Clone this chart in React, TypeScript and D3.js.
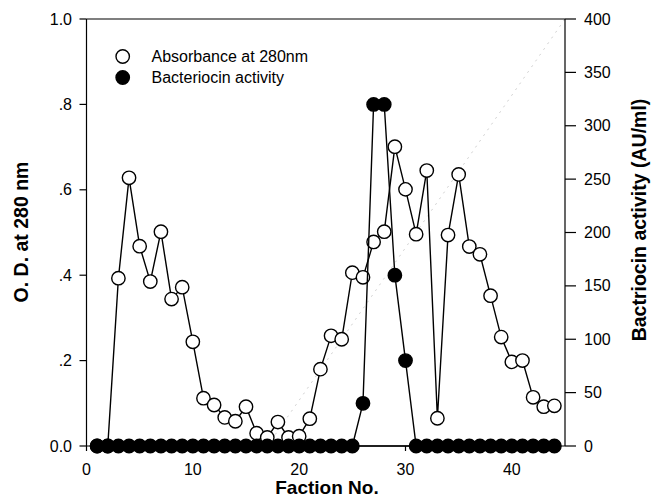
import React from "react";
import * as d3 from "d3";

const fractions = [1,2,3,4,5,6,7,8,9,10,11,12,13,14,15,16,17,18,19,20,21,22,23,24,25,26,27,28,29,30,31,32,33,34,35,36,37,38,39,40,41,42,43,44];
const absorbance = [0,0,0.393,0.628,0.468,0.385,0.502,0.344,0.372,0.244,0.112,0.096,0.067,0.058,0.092,0.030,0.020,0.056,0.020,0.023,0.064,0.180,0.258,0.250,0.406,0.395,0.478,0.502,0.701,0.601,0.496,0.645,0.065,0.494,0.636,0.467,0.449,0.352,0.255,0.197,0.200,0.114,0.092,0.094];
const activity = [0,0,0,0,0,0,0,0,0,0,0,0,0,0,0,0,0,0,0,0,0,0,0,0,0,40,320,320,160,80,0,0,0,0,0,0,0,0,0,0,0,0,0,0];
const gradientX = [17, 45];
const gradientY = [0, 1.0];
const xTicks = [0, 10, 20, 30, 40];
const leftTicks = [0, 0.2, 0.4, 0.6, 0.8, 1.0];
const leftTickLabels = ["0.0", ".2", ".4", ".6", ".8", "1.0"];
const rightTicks = [0, 50, 100, 150, 200, 250, 300, 350, 400];
const legendLabels = ["Absorbance at 280nm", "Bacteriocin activity"];
const xTitle = "Faction No.";
const leftTitle = "O. D. at 280 nm";
const rightTitle = "Bactriocin activity (AU/ml)";

export default function App() {
  const W = 651, H = 499;
  const L = 86.5, R = 565, T = 19, B = 446;
  const x = d3.scaleLinear().domain([0, 45]).range([L, R]);
  const yL = d3.scaleLinear().domain([0, 1]).range([B, T]);
  const yR = d3.scaleLinear().domain([0, 400]).range([B, T]);
  const font = "'Liberation Sans', Arial, sans-serif";

  const absData = fractions.map((f, i) => ({ f, v: absorbance[i] }));
  const actData = fractions.map((f, i) => ({ f, v: activity[i] }));
  const lineA = d3.line<{ f: number; v: number }>().x(d => x(d.f)).y(d => yL(d.v));
  const lineB = d3.line<{ f: number; v: number }>().x(d => x(d.f)).y(d => yR(d.v));
  const zeroPts = actData.filter(d => d.v === 0);
  const grad = gradientX.map((f, i) => ({ f, v: gradientY[i] }));

  const r = 6.7;
  const sw = 1.4;

  return (
    <svg width={W} height={H} style={{ position: "absolute", left: 0, top: 0, background: "#fff" }} fontFamily={font}>
      <rect x={0} y={0} width={W} height={H} fill="#fff" />
      {/* gradient */}
      <path d={lineA(grad) || ""} fill="none" stroke="#c4c4c4" strokeWidth={0.8} strokeDasharray="2,5" />
      {/* frame */}
      <line x1={L} x2={R} y1={T} y2={T} stroke="#000" strokeWidth={1.2} />
      <line x1={L} x2={R} y1={B} y2={B} stroke="#000" strokeWidth={1.2} />
      <line x1={L} x2={L} y1={T} y2={B} stroke="#000" strokeWidth={1.2} />
      <line x1={R} x2={R} y1={T} y2={B} stroke="#000" strokeWidth={1.2} />
      {/* x ticks */}
      {xTicks.map(t => (
        <g key={"x" + t}>
          <line x1={x(t)} x2={x(t)} y1={B} y2={B + 5} stroke="#000" strokeWidth={1.2} />
          <text x={x(t)} y={475} textAnchor="middle" fontSize={16}>{t}</text>
        </g>
      ))}
      {/* left ticks */}
      {leftTicks.map((t, i) => (
        <g key={"l" + t}>
          <line x1={L - 7} x2={L} y1={yL(t)} y2={yL(t)} stroke="#000" strokeWidth={1.2} />
          <text x={72} y={yL(t) + 5.5} textAnchor="end" fontSize={16}>{leftTickLabels[i]}</text>
        </g>
      ))}
      {/* right ticks */}
      {rightTicks.map(t => (
        <g key={"r" + t}>
          <line x1={R} x2={R + 11} y1={yR(t)} y2={yR(t)} stroke="#000" strokeWidth={1.2} />
          <text x={584} y={yR(t) + 5.5} textAnchor="start" fontSize={16}>{t}</text>
        </g>
      ))}
      {/* titles */}
      <text x={327} y={494} textAnchor="middle" fontSize={19} fontWeight="bold">{xTitle}</text>
      <text transform={`translate(28,232) rotate(-90)`} textAnchor="middle" fontSize={19.5} fontWeight="bold">{leftTitle}</text>
      <text transform={`translate(646,220) rotate(-90)`} textAnchor="middle" fontSize={19.5} fontWeight="bold">{rightTitle}</text>
      {/* absorbance */}
      <path d={lineA(absData) || ""} fill="none" stroke="#000" strokeWidth={sw} />
      {absData.map(d => (
        <circle key={"a" + d.f} cx={x(d.f)} cy={yL(d.v)} r={r} fill="#fff" stroke="#000" strokeWidth={sw} />
      ))}
      {/* activity */}
      <path d={lineB(zeroPts) || ""} fill="none" stroke="#000" strokeWidth={sw} />
      <path d={lineB(actData) || ""} fill="none" stroke="#000" strokeWidth={sw} />
      {actData.map(d => (
        <circle key={"b" + d.f} cx={x(d.f)} cy={yR(d.v)} r={r} fill="#000" stroke="#000" strokeWidth={sw} />
      ))}
      {/* legend */}
      <circle cx={122.7} cy={56.5} r={r} fill="#fff" stroke="#000" strokeWidth={sw} />
      <text x={151.5} y={62} fontSize={16}>{legendLabels[0]}</text>
      <circle cx={122.7} cy={77.5} r={r} fill="#000" stroke="#000" strokeWidth={sw} />
      <text x={151.5} y={83} fontSize={16}>{legendLabels[1]}</text>
    </svg>
  );
}
